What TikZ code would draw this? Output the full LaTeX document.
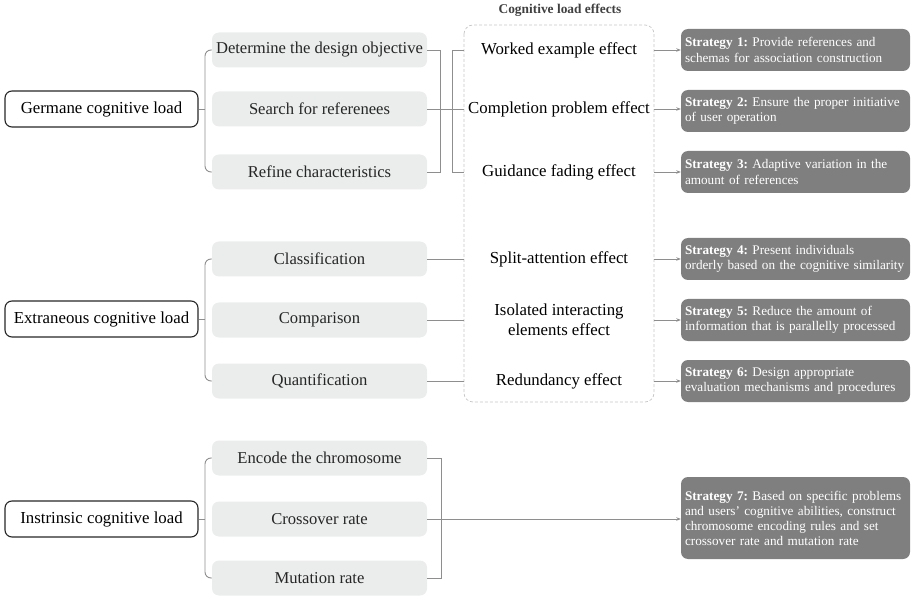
\documentclass[tikz,border=0pt]{standalone}
\usepackage{fontspec}
\setmainfont{Liberation Serif}
\usetikzlibrary{arrows.meta}
\definecolor{boxgray}{HTML}{EBECEC}
\definecolor{stratgray}{HTML}{7F7F7F}
\definecolor{linegray}{HTML}{8E8E8E}
\definecolor{dashgray}{HTML}{C6C6C6}
\begin{document}
\begin{tikzpicture}[x=1pt,y=-1pt,
 rootbox/.style={draw=black!85, line width=1.1pt, rounded corners=7pt, minimum width=193pt, minimum height=36pt, inner sep=0pt, font=\fontsize{16.8}{19}\selectfont},
 subbox/.style={fill=boxgray, rounded corners=7pt, minimum width=215pt, minimum height=35pt, inner sep=0pt, text=black!85, font=\fontsize{16.6}{19}\selectfont},
 effect/.style={minimum width=190pt, inner sep=0pt, align=center, font=\fontsize{16.8}{20}\selectfont},
 strat/.style={fill=stratgray, rounded corners=7pt, text=white, text width=221pt, inner xsep=4pt, inner ysep=4pt, minimum height=42pt, align=left, font=\fontsize{13.2}{15.5}\selectfont, execute at begin node={\frenchspacing\hyphenpenalty=10000 }},
 conn/.style={draw=linegray, line width=0.9pt},
 arr/.style={conn, -{Stealth[length=4.5pt,width=3.5pt]}},
 ttl/.style={font=\bfseries\fontsize{13.4}{15}\selectfont, text=black!75},
]
\useasboundingbox (0,0) rectangle (911,596);

% title and dashed frame
\node[ttl] (title) at (560,10) {Cognitive load effects};
\draw[dashgray, dashed, dash pattern=on 3pt off 2pt, line width=0.7pt, rounded corners=9pt] (464,25) rectangle (654,402);

% roots
\node[rootbox] (G) at (101.5,109) {Germane cognitive load};
\node[rootbox] (E) at (101.5,319) {Extraneous cognitive load};
\node[rootbox] (I) at (101.5,519) {Instrinsic cognitive load};

% sub boxes
\node[subbox] (g1) at (319.5,50) {Determine the design objective};
\node[subbox] (g2) at (319.5,109) {Search for referenees};
\node[subbox] (g3) at (319.5,172) {Refine characteristics};
\node[subbox] (x1) at (319.5,259) {Classification};
\node[subbox] (x2) at (319.5,320) {Comparison};
\node[subbox] (x3) at (319.5,381) {Quantification};
\node[subbox] (i1) at (319.5,458) {Encode the chromosome};
\node[subbox] (i2) at (319.5,519) {Crossover rate};
\node[subbox] (i3) at (319.5,578) {Mutation rate};

% effects
\node[effect] (e1) at (559,50) {Worked example effect};
\node[effect] (e2) at (559,109) {Completion problem effect};
\node[effect] (e3) at (559,172) {Guidance fading effect};
\node[effect] (e4) at (559,259) {Split-attention effect};
\node[effect] (e5) at (559,320) {Isolated interacting\\elements effect};
\node[effect] (e6) at (559,381) {Redundancy effect};

% strategies
\node[strat] (s1) at (795.5,50) {\textbf{Strategy 1:} Provide references and\\schemas for association construction};
\node[strat] (s2) at (795.5,111) {\textbf{Strategy 2:} Ensure the proper initiative\\of user operation};
\node[strat] (s3) at (795.5,172) {\textbf{Strategy 3:} Adaptive variation in the\\amount of references};
\node[strat] (s4) at (795.5,259) {\textbf{Strategy 4:} Present individuals\\orderly based on the cognitive similarity};
\node[strat] (s5) at (795.5,320) {\textbf{Strategy 5:} Reduce the amount of\\information that is parallelly processed};
\node[strat] (s6) at (795.5,381) {\textbf{Strategy 6:} Design appropriate\\evaluation mechanisms and procedures};
\node[strat, minimum height=82pt, font=\fontsize{13.2}{15}\selectfont] (s7) at (795.5,518) {\textbf{Strategy 7:} Based on specific problems\\and users’ cognitive abilities, construct\\chromosome encoding rules and set\\crossover rate and mutation rate};

% left braces
\foreach \r/\a/\c in {G/g1/g3, E/x1/x3, I/i1/i3}{
  \draw[conn, rounded corners=6pt] (\a.west) -- (205,0 |- \a.west) -- (205,0 |- \c.west) -- (\c.west);
  \draw[conn] (\r.east) -- (205,0 |- \r.east);
}

% germane right side
\coordinate (gb1) at (440,50);
\coordinate (gb3) at (440,172);
\draw[conn] (g1.east) -- (gb1) -- (gb3) -- (g3.east);
\draw[conn] (g2.east) -- (e2.west);
\coordinate (gc1) at (452,50);
\coordinate (gc3) at (452,172);
\draw[conn] (e1.west) -- (gc1) -- (gc3) -- (e3.west);

% extraneous
\draw[conn] (x1.east) -- (e4.west);
\draw[conn] (x2.east) -- (e5.west);
\draw[conn] (x3.east) -- (e6.west);

% effects to strategies
\draw[arr] (e1.east) -- (s1.west);
\draw[arr] (e2.east) -- (s2.west |- e2.east);
\draw[arr] (e3.east) -- (s3.west);
\draw[arr] (e4.east) -- (s4.west);
\draw[arr] (e5.east) -- (s5.west);
\draw[arr] (e6.east) -- (s6.west);

% intrinsic
\coordinate (ib1) at (441,458);
\coordinate (ib3) at (441,578);
\draw[conn] (i1.east) -- (ib1) -- (ib3) -- (i3.east);
\draw[arr] (i2.east) -- (s7.west |- i2.east);
\end{tikzpicture}
\end{document}
